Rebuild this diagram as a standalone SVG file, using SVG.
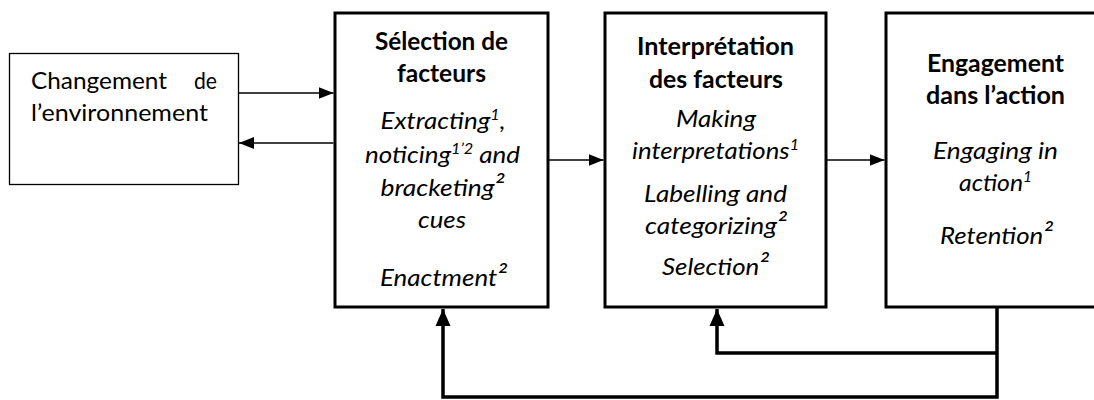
<svg xmlns="http://www.w3.org/2000/svg" width="1094" height="400" viewBox="0 0 1094 400">
<defs>
<style>
.box{fill:#fff;stroke:#000;stroke-width:3}
.thinbox{fill:#fff;stroke:#000;stroke-width:1.3}
text{font-family:Lato,"Open Sans","Liberation Sans",sans-serif;font-size:24px;fill:#000}
.b{font-weight:bold;text-anchor:middle}
.i{font-style:italic;text-anchor:middle}
.sup{font-size:15px}
.sq{font-size:27px}
.thin{fill:none;stroke:#000;stroke-width:1.3}
.thick{fill:none;stroke:#000;stroke-width:3.5;stroke-linejoin:miter}
</style>
<marker id="ah" markerUnits="userSpaceOnUse" markerWidth="16" markerHeight="13" refX="15" refY="6.5" orient="auto" viewBox="0 0 16 13">
<path d="M0,0.5 L15,6.5 L0,12.5 z" fill="#000"/>
</marker>
<marker id="ahb" markerUnits="userSpaceOnUse" markerWidth="18" markerHeight="16" refX="17" refY="8" orient="auto" viewBox="0 0 18 16">
<path d="M0,0.5 L17,8 L0,15.5 z" fill="#000"/>
</marker>
</defs>
<rect width="1094" height="400" fill="#fff"/>

<g id="env">
<rect class="thinbox" x="9.5" y="53.5" width="229" height="131"/>
<text x="31" y="89" textLength="136" lengthAdjust="spacingAndGlyphs">Changement</text>
<text x="217" y="89" text-anchor="end" textLength="23" lengthAdjust="spacingAndGlyphs">de</text>
<text x="31" y="121" textLength="177" lengthAdjust="spacingAndGlyphs">l’environnement</text>
</g>

<g id="selection">
<rect class="box" x="335" y="13" width="213" height="294"/>
<text class="b" x="441.5" y="50" textLength="133" lengthAdjust="spacingAndGlyphs">Sélection de</text>
<text class="b" x="441.5" y="82" textLength="89" lengthAdjust="spacingAndGlyphs">facteurs</text>
<text class="i" x="443" y="129" textLength="125" lengthAdjust="spacingAndGlyphs">Extracting<tspan class="sup" dy="-9">1</tspan><tspan dy="9">,</tspan></text>
<text class="i" x="442.5" y="163" textLength="155" lengthAdjust="spacingAndGlyphs">noticing<tspan class="sup" dy="-9">1’2</tspan><tspan dy="9"> and</tspan></text>
<text class="i" x="442.5" y="196" textLength="124" lengthAdjust="spacingAndGlyphs">bracketing<tspan class="sq">²</tspan></text>
<text class="i" x="442" y="228" textLength="48" lengthAdjust="spacingAndGlyphs">cues</text>
<text class="i" x="443.5" y="286" textLength="127" lengthAdjust="spacingAndGlyphs">Enactment<tspan class="sq">²</tspan></text>
</g>

<g id="interpretation">
<rect class="box" x="605" y="13" width="221" height="294"/>
<text class="b" x="715.5" y="55" textLength="157" lengthAdjust="spacingAndGlyphs">Interprétation</text>
<text class="b" x="716" y="88" textLength="134" lengthAdjust="spacingAndGlyphs">des facteurs</text>
<text class="i" x="716" y="127" textLength="80" lengthAdjust="spacingAndGlyphs">Making</text>
<text class="i" x="715.5" y="159" textLength="167" lengthAdjust="spacingAndGlyphs">interpretations<tspan class="sup" dy="-9">1</tspan></text>
<text class="i" x="715.5" y="202" textLength="143" lengthAdjust="spacingAndGlyphs">Labelling and</text>
<text class="i" x="716" y="234" textLength="142" lengthAdjust="spacingAndGlyphs">categorizing<tspan class="sq">²</tspan></text>
<text class="i" x="715.5" y="275" textLength="107" lengthAdjust="spacingAndGlyphs">Selection<tspan class="sq">²</tspan></text>
</g>

<g id="engagement">
<rect class="box" x="886" y="13" width="220" height="294"/>
<text class="b" x="995.5" y="72" textLength="137" lengthAdjust="spacingAndGlyphs">Engagement</text>
<text class="b" x="995.5" y="104" textLength="139" lengthAdjust="spacingAndGlyphs">dans l’action</text>
<text class="i" x="995.5" y="159" textLength="125" lengthAdjust="spacingAndGlyphs">Engaging in</text>
<text class="i" x="995.5" y="191" textLength="73" lengthAdjust="spacingAndGlyphs">action<tspan class="sup" dy="-9">1</tspan></text>
<text class="i" x="996.5" y="244" textLength="113" lengthAdjust="spacingAndGlyphs">Retention<tspan class="sq">²</tspan></text>
</g>

<g id="connectors">
<line class="thin" x1="238" y1="93" x2="333.5" y2="93" marker-end="url(#ah)"/>
<line class="thin" x1="333.5" y1="143" x2="239" y2="143" marker-end="url(#ah)"/>
<line class="thin" x1="548" y1="160" x2="603.5" y2="160" marker-end="url(#ah)"/>
<line class="thin" x1="826" y1="160" x2="884.5" y2="160" marker-end="url(#ah)"/>
<path class="thick" d="M997,308 V397 H443 V309" marker-end="url(#ahb)"/>
<path class="thick" d="M997,353 H717 V309" marker-end="url(#ahb)"/>
</g>
</svg>
